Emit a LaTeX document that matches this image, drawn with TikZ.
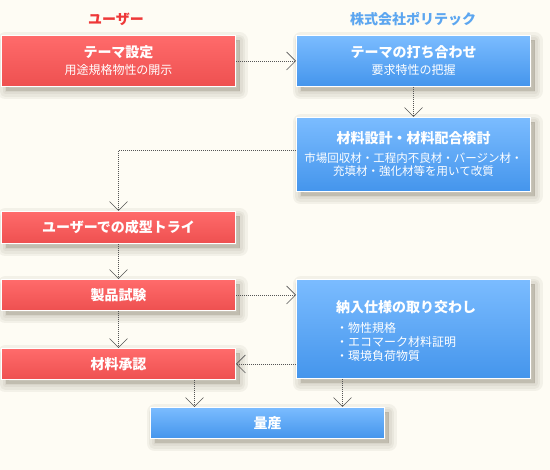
\documentclass[tikz,border=0pt]{standalone}
\usepackage{fontspec}
\setmainfont{Noto Sans CJK JP}
\usetikzlibrary{arrows.meta,shadows,calc}
\definecolor{bg}{HTML}{FEFCF4}
\definecolor{redtop}{HTML}{FF6B6B}
\definecolor{redbot}{HTML}{EE5050}
\definecolor{bluetop}{HTML}{7BBCFF}
\definecolor{bluebot}{HTML}{4495EC}
\definecolor{redtitle}{HTML}{EE3838}
\definecolor{bluetitle}{HTML}{5CA6F0}
\definecolor{linegray}{HTML}{555555}
\definecolor{shadowc}{HTML}{6E6650}
\begin{document}
\begin{tikzpicture}[x=1pt,y=-1pt,
  shlayer/.style={general shadow={shadow xshift=4pt, shadow yshift=-5pt, fill=shadowc, draw=shadowc, line join=round, line width=#1, opacity=0.07}},
  boxbase/.style={anchor=north west, inner sep=0pt, draw=white, line width=1pt,
    text=white, align=center,
    font=\fontsize{12}{17}\selectfont,
    shlayer=16pt, shlayer=11pt, shlayer=6pt, shlayer=1pt},
  redbox/.style={boxbase, top color=redtop, bottom color=redbot},
  bluebox/.style={boxbase, top color=bluetop, bottom color=bluebot},
  ttl/.style={font=\bfseries\fontsize{14}{17}\selectfont},
  flow/.style={draw=linegray, line width=0.9pt, dash pattern=on 1pt off 1pt,
    -{Straight Barb[length=9pt,width=18pt,line width=0.7pt]}}
]
\fill[bg] (0,0) rectangle (550,470);
\useasboundingbox (0,0) rectangle (550,470);

\node[ttl, text=redtitle] (huser) at (116,19) {ユーザー};
\node[ttl, text=bluetitle] (hpoly) at (413,19) {株式会社ポリテック};

\node[redbox, minimum width=234pt, minimum height=51pt] (b1) at (1,35)
  {{\bfseries\fontsize{14}{17}\selectfont テーマ設定}\\用途規格物性の開示};
\node[bluebox, minimum width=234pt, minimum height=51pt] (b2) at (296,35)
  {{\bfseries\fontsize{14}{17}\selectfont テーマの打ち合わせ}\\要求特性の把握};
\node[bluebox, minimum width=234pt, minimum height=74pt, font=\fontsize{11.5}{13.5}\selectfont] (b3) at (296,117)
  {{\bfseries\fontsize{14}{17}\selectfont 材料設計・材料配合検討}\\[5pt]市場回収材・工程内不良材・バージン材・\\充填材・強化材等を用いて改質};
\node[redbox, minimum width=234pt, minimum height=32pt] (b4) at (1,211)
  {\bfseries\fontsize{14}{17}\selectfont ユーザーでの成型トライ};
\node[redbox, minimum width=234pt, minimum height=31pt] (b5) at (1,279)
  {\bfseries\fontsize{14}{17}\selectfont 製品試験};
\node[bluebox, minimum width=234pt, minimum height=99pt] (b6) at (296,279) {};
\node[anchor=west, inner sep=0pt, text=white, align=left, font=\fontsize{12}{14}\selectfont] (b6t) at (336,331)
  {{\bfseries\fontsize{14}{17}\selectfont 納入仕様の取り交わし}\\[6pt]・物性規格\\・エコマーク材料証明\\・環境負荷物質};
\node[redbox, minimum width=234pt, minimum height=31pt] (b7) at (1,348)
  {\bfseries\fontsize{14}{17}\selectfont 材料承認};
\node[bluebox, minimum width=234pt, minimum height=31pt] (b8) at (150,407)
  {\bfseries\fontsize{14}{17}\selectfont 量産};

\draw[flow] (b1.east) -- (b1.east -| b2.west);
\draw[flow] (b2.south) -- (b3.north);
\draw[flow] ([yshift=4pt]b3.west) -| (b4.north);
\draw[flow] (b4.south) -- (b5.north);
\draw[flow] (b5.east) -- (b5.east -| b6.west);
\draw[flow] (b5.south) -- (b7.north);
\draw[flow] (b6.west |- b7.east) -- (b7.east);
\draw[flow] ([xshift=76pt]b7.south) -- ([xshift=76pt]b7.south |- b8.north);
\draw[flow] ([xshift=-71pt]b6.south) -- ([xshift=-71pt]b6.south |- b8.north);
\end{tikzpicture}
\end{document}
